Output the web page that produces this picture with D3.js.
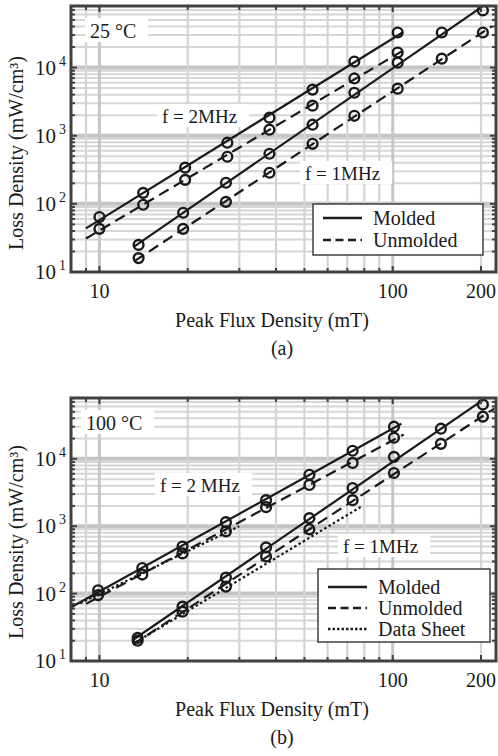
<!DOCTYPE html>
<html><head><meta charset="utf-8">
<script src="https://cdn.jsdelivr.net/npm/d3@7/dist/d3.min.js"></script>
<style>
body{margin:0;background:#fff}
svg{display:block}
text{font-family:"Liberation Serif","Times New Roman",serif;fill:#1a1a1a}
</style>
</head><body><svg id="c" width="498" height="756"></svg>
<script>
// ---------------- data ----------------
const xDomain = [8, 225];
const yDomain = [10, 80000];
const xTickValues = [10, 100, 200];
const xTickLabels = ["10", "100", "200"];
const yTickExponents = [1, 2, 3, 4];

// (a) 25 °C
const bTop2 = [10, 14.1, 19.6, 27.3, 38, 53.3, 74, 104];
const topMolded2 = [64, 145, 340, 789, 1840, 4750, 12250, 32700];
const topUnmolded2 = [43, 97, 225, 491, 1225, 2760, 6920, 16600];
const bTop1 = [13.6, 19.3, 27, 38, 53.3, 74, 104, 147, 203];
const topMolded1 = [25, 74, 204, 543, 1450, 4270, 11800, 32700, 69000];
const topUnmolded1 = [16, 43, 107, 286, 760, 1960, 4900, 13500, 32700];
const topFitRange2 = [9, 108];
const topFitRange1 = [13.2, 218];

// (b) 100 °C
const bBot2 = [9.9, 14, 19.2, 27, 37, 52, 73, 101];
const botMolded2 = [112, 240, 500, 1150, 2440, 5800, 13200, 30000];
const botUnmolded2 = [95, 192, 395, 840, 1920, 4100, 8700, 20600];
const bBot1 = [13.5, 19.2, 27, 37, 52, 73, 101, 146, 203];
const botMolded1 = [22, 64, 173, 486, 1320, 3690, 10700, 28000, 64000];
const botUnmolded1 = [20, 54, 127, 355, 900, 2440, 6170, 16700, 42400];
const botFitRange2Molded = [8, 107];
const botFitRange2Unmolded = [9, 109];
const botFitRange1 = [13, 222];
const bSheet2 = [8.6, 30];
const sheet2 = [72, 1000];
const bSheet1 = [13.3, 78];
const sheet1 = [19, 1950];

const seriesNames = ["Molded", "Unmolded", "Data Sheet"];

// ---------------- drawing ----------------
const svg = d3.select("#c");
const INK = "#1a1a1a", FRAME = "#404040";
const DASH = {Molded: null, Unmolded: "11,6", "Data Sheet": "2.5,2.5"};
const LDASH = {Molded: null, Unmolded: "8,4.5", "Data Sheet": "2.5,2"};

function fit(bs, vs, range) {
  const lx = bs.map(Math.log10), ly = vs.map(Math.log10);
  const mx = d3.mean(lx), my = d3.mean(ly);
  const b = d3.sum(lx, (v, i) => (v - mx) * (ly[i] - my)) / d3.sum(lx, v => (v - mx) ** 2);
  const a = my - b * mx;
  return range.map(r => [r, Math.pow(10, a + b * Math.log10(r))]);
}

function panel(cfg) {
  const g = svg.append("g");
  const x = d3.scaleLog().domain(xDomain).range([cfg.left, cfg.right]);
  const y = d3.scaleLog().domain(yDomain).range([cfg.bottom, cfg.top]);

  // grid
  const xGrid = [];
  for (let e = 0; e <= 2; e++) for (let m = 1; m <= 9; m++) {
    const v = m * Math.pow(10, e);
    if (v > xDomain[0] && v < xDomain[1]) xGrid.push(v);
  }
  const yGrid = [];
  for (let e = 1; e <= 4; e++) for (let m = 1; m <= 9; m++) {
    const v = m * Math.pow(10, e);
    if (v > yDomain[0] && v < yDomain[1]) yGrid.push(v);
  }
  const isDec = v => Math.abs(Math.log10(v) - Math.round(Math.log10(v))) < 1e-9;
  g.append("g").selectAll("line").data(yGrid).join("line")
    .attr("x1", cfg.left).attr("x2", cfg.right)
    .attr("y1", d => y(d)).attr("y2", d => y(d))
    .attr("stroke", d => isDec(d) ? "#c4c4c4" : "#d6d6d6")
    .attr("stroke-width", d => isDec(d) ? 4 : 2);
  g.append("g").selectAll("line").data(xGrid).join("line")
    .attr("y1", cfg.top).attr("y2", cfg.bottom)
    .attr("x1", d => x(d)).attr("x2", d => x(d))
    .attr("stroke", d => isDec(d) ? "#c6c6c6" : "#d4d4d4")
    .attr("stroke-width", d => isDec(d) ? 3 : 2.2);

  // text labels with white boxes
  cfg.labels.forEach(l => {
    const t = g.append("text").attr("x", l.x).attr("y", l.y)
      .attr("font-size", l.size || 20).text(l.text);
    const bb = t.node().getBBox();
    g.insert("rect", "text").attr("x", bb.x - 5).attr("y", bb.y - 2)
      .attr("width", bb.width + 17).attr("height", bb.height + 2)
      .attr("fill", "#fff");
  });

  // data
  const clipId = "clip" + cfg.id;
  svg.append("clipPath").attr("id", clipId).append("rect")
    .attr("x", cfg.left).attr("y", cfg.top)
    .attr("width", cfg.right - cfg.left).attr("height", cfg.bottom - cfg.top);
  const dg = g.append("g").attr("clip-path", `url(#${clipId})`);
  const line = d3.line().x(d => x(d[0])).y(d => y(d[1]));
  cfg.series.forEach(s => {
    const pts = s.line ? s.line : fit(s.b, s.v, s.range);
    dg.append("path").attr("d", line(pts)).attr("fill", "none")
      .attr("stroke", INK).attr("stroke-width", 2.2)
      .attr("stroke-dasharray", DASH[s.name]);
    if (s.v && !s.line) {
      dg.append("g").selectAll("circle").data(s.b.map((b, i) => [b, s.v[i]])).join("circle")
        .attr("cx", d => x(d[0])).attr("cy", d => y(d[1])).attr("r", 4.9)
        .attr("fill", "none").attr("stroke", INK).attr("stroke-width", 2.4);
    }
  });

  // ticks (inward, all sides)
  const tg = g.append("g").attr("stroke", FRAME).attr("stroke-width", 2);
  xGrid.forEach(v => {
    const len = xTickValues.includes(v) ? 6 : 4;
    tg.append("line").attr("x1", x(v)).attr("x2", x(v)).attr("y1", cfg.bottom).attr("y2", cfg.bottom - len);
    tg.append("line").attr("x1", x(v)).attr("x2", x(v)).attr("y1", cfg.top).attr("y2", cfg.top + len);
  });
  yGrid.forEach(v => {
    const len = isDec(v) ? 6 : 4;
    tg.append("line").attr("y1", y(v)).attr("y2", y(v)).attr("x1", cfg.left).attr("x2", cfg.left + len);
    tg.append("line").attr("y1", y(v)).attr("y2", y(v)).attr("x1", cfg.right).attr("x2", cfg.right - len);
  });
  g.append("rect").attr("x", cfg.left).attr("y", cfg.top)
    .attr("width", cfg.right - cfg.left).attr("height", cfg.bottom - cfg.top)
    .attr("fill", "none").attr("stroke", FRAME).attr("stroke-width", 3);

  // x tick labels
  xTickValues.forEach((v, i) => {
    g.append("text").attr("x", x(v)).attr("y", cfg.bottom + 26)
      .attr("text-anchor", "middle").attr("font-size", 20).text(xTickLabels[i]);
  });
  // y tick labels
  yTickExponents.forEach(e => {
    const yy = y(Math.pow(10, e));
    g.append("text").attr("x", 56).attr("y", yy + 7).attr("text-anchor", "end")
      .attr("font-size", 21).text("10");
    g.append("text").attr("x", 59).attr("y", yy - 2).attr("font-size", 14).text(String(e));
  });
  // axis titles
  g.append("text").attr("transform", `translate(23,${cfg.ytitleY}) rotate(-90)`)
    .attr("text-anchor", "middle").attr("font-size", 20).text("Loss Density (mW/cm³)");
  g.append("text").attr("x", 272).attr("y", cfg.bottom + 55)
    .attr("text-anchor", "middle").attr("font-size", 20).text("Peak Flux Density (mT)");
  g.append("text").attr("x", 282).attr("y", cfg.bottom + 83)
    .attr("text-anchor", "middle").attr("font-size", 20).text(cfg.caption);

  // legend
  const L = cfg.legend;
  const lg = g.append("g");
  lg.append("rect").attr("x", L.x).attr("y", L.y).attr("width", L.w).attr("height", L.h)
    .attr("fill", "#fff").attr("stroke", FRAME).attr("stroke-width", 1.5);
  L.names.forEach((n, i) => {
    const yy = L.y + L.first + i * L.step;
    lg.append("line").attr("x1", L.x + 10).attr("x2", L.x + 49).attr("y1", yy).attr("y2", yy)
      .attr("stroke", INK).attr("stroke-width", 2.5).attr("stroke-dasharray", LDASH[n]);
    lg.append("text").attr("x", L.x + 60).attr("y", yy + 7).attr("font-size", 20).text(n);
  });
}

panel({
  id: "a", left: 71, right: 496, top: 6, bottom: 272, ytitleY: 153, caption: "(a)",
  labels: [
    {text: "25 °C", x: 90, y: 38},
    {text: "f = 2MHz", x: 162, y: 123, size: 19},
    {text: "f = 1MHz", x: 305, y: 180, size: 19}
  ],
  series: [
    {name: "Molded", b: bTop2, v: topMolded2, range: topFitRange2},
    {name: "Unmolded", b: bTop2, v: topUnmolded2, range: topFitRange2},
    {name: "Molded", b: bTop1, v: topMolded1, range: topFitRange1},
    {name: "Unmolded", b: bTop1, v: topUnmolded1, range: topFitRange1}
  ],
  legend: {x: 313, y: 204, w: 170, h: 51, first: 14, step: 22, names: seriesNames.slice(0, 2)}
});

panel({
  id: "b", left: 71, right: 496, top: 398, bottom: 661, ytitleY: 542, caption: "(b)",
  labels: [
    {text: "100 °C", x: 86, y: 430},
    {text: "f = 2 MHz", x: 160, y: 492, size: 19},
    {text: "f = 1MHz", x: 343, y: 553, size: 19}
  ],
  series: [
    {name: "Data Sheet", line: bSheet2.map((b, i) => [b, sheet2[i]])},
    {name: "Data Sheet", line: bSheet1.map((b, i) => [b, sheet1[i]])},
    {name: "Molded", b: bBot2, v: botMolded2, range: botFitRange2Molded},
    {name: "Unmolded", b: bBot2, v: botUnmolded2, range: botFitRange2Unmolded},
    {name: "Molded", b: bBot1, v: botMolded1, range: botFitRange1},
    {name: "Unmolded", b: bBot1, v: botUnmolded1, range: botFitRange1}
  ],
  legend: {x: 318, y: 569, w: 172, h: 73, first: 18, step: 21, names: seriesNames}
});
</script>
</body></html>
